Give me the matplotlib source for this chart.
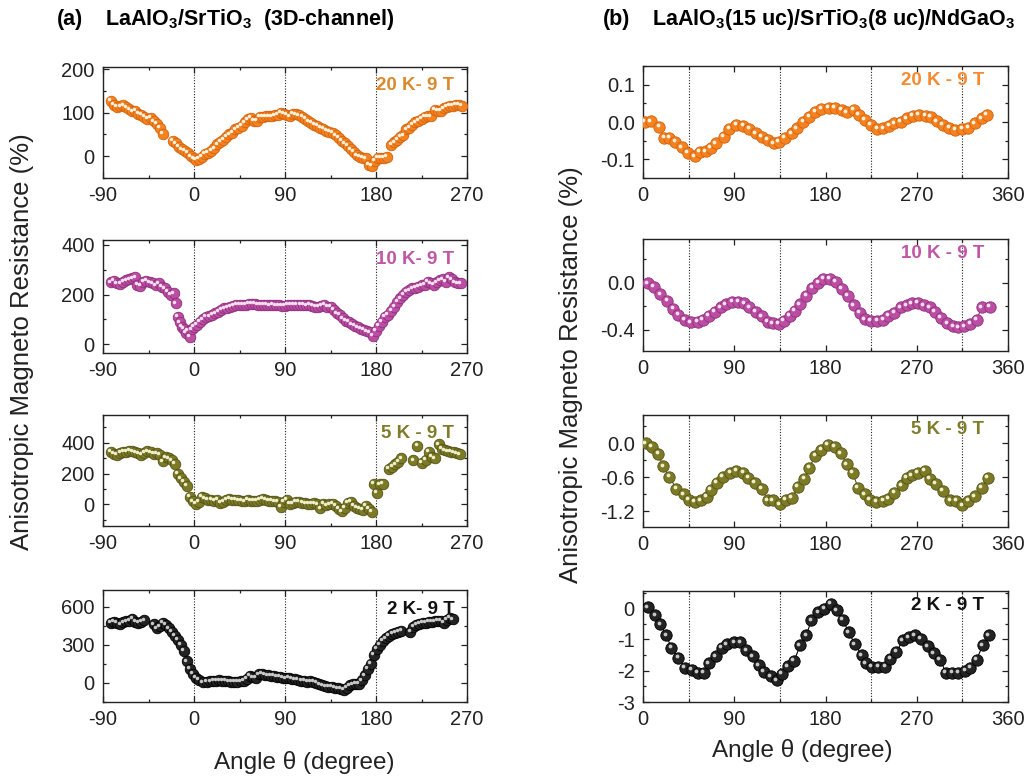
import matplotlib
matplotlib.use("Agg")
import matplotlib.pyplot as plt
import matplotlib.transforms as mtransforms
from matplotlib.ticker import MultipleLocator

plt.rcParams['font.family'] = ['Liberation Sans', 'DejaVu Sans']
plt.rcParams['mathtext.fontset'] = 'custom'
plt.rcParams['mathtext.rm'] = 'Liberation Sans'
plt.rcParams['mathtext.bf'] = 'Liberation Sans:bold'
plt.rcParams['axes.unicode_minus'] = False

# ---------------- Data: panel (a) LaAlO3/SrTiO3 (3D-channel) ----------------
a20_x = [-82, -79, -76, -73, -70, -67, -64, -61, -58, -55, -52, -49, -46, -43, -40, -37, -34, -31,
         -21, -18, -15, -12, -9, -6, -3, 0, 2, 5, 8, 11, 14, 17, 20, 23, 26, 29, 32, 35, 38, 41, 44, 47,
         50, 53, 56, 59, 62, 65, 68, 71, 74, 77, 80, 83, 86, 89, 92, 95, 98, 101, 104, 107, 110, 113,
         116, 119, 122, 125, 128, 131, 134, 137, 140, 143, 146, 149, 152, 155, 158, 161, 164, 167, 170,
         173, 176, 179, 182, 185, 188, 191, 195, 198, 201, 204, 207, 210, 213, 216, 219, 222, 225, 228,
         231, 234, 238, 241, 244, 247, 250, 253, 256, 259, 262, 265]
a20_y = [127, 118, 113, 115, 117, 112, 108, 103, 104, 98, 95, 90, 86, 88, 80, 75, 66, 52,
         36, 30, 22, 16, 13, 8, 0, -5, -8, -6, -2, 5, 8, 12, 18, 27, 33, 38, 44, 50, 54, 62, 66, 70,
         78, 85, 88, 82, 82, 90, 91, 92, 92, 92, 94, 95, 100, 98, 95, 92, 98, 96, 94, 90, 86, 80,
         76, 72, 70, 66, 63, 58, 56, 54, 48, 42, 36, 30, 24, 16, 10, 2, -2, -3, -5,
         -20, -22, -10, -4, -4, -4, -2, 26, 32, 38, 44, 48, 62, 66, 72, 78, 82, 86, 90,
         92, 92, 106, 104, 104, 110, 113, 116, 116, 118, 118, 116]

a10_x = [-82, -79, -76, -73, -70, -67, -64, -61, -58, -56, -53, -50, -47, -44, -41, -38, -35, -32,
         -29, -26, -23, -20, -18, -16, -14, -12, -10, -8, -6, -4, -2, 0, 3, 6, 9, 12, 15, 18, 21, 24,
         27, 30, 33, 36, 39, 42, 45, 48, 51, 54, 57, 60, 63, 66, 69, 72, 75, 78, 81, 84, 87, 90, 93,
         96, 99, 102, 105, 108, 111, 114, 117, 120, 123, 126, 129, 132, 135, 138, 141, 144, 147, 150,
         153, 156, 159, 162, 165, 168, 171, 174, 177, 180, 183, 186, 189, 192, 195, 198, 201, 204,
         207, 210, 213, 216, 219, 222, 225, 228, 231, 234, 237, 240, 243, 246, 249, 252, 255, 258,
         261, 264]
a10_y = [250, 255, 245, 243, 252, 258, 262, 265, 270, 240, 235, 252, 256, 250, 245, 238, 245, 232,
         225, 210, 200, 205, 165, 110, 88, 70, 62, 45, 55, 30, 60, 70, 78, 90, 100, 110, 112, 120, 125,
         130, 140, 145, 148, 150, 155, 158, 160, 160, 160, 162, 163, 162, 160, 160, 158, 158, 157, 158,
         157, 157, 155, 155, 158, 158, 158, 160, 160, 158, 157, 158, 156, 152, 150, 155, 160, 152, 150,
         140, 125, 118, 105, 95, 90, 80, 75, 68, 62, 58, 52, 48, 35, 55, 75, 90, 110, 120, 135, 150,
         170, 185, 198, 210, 218, 225, 228, 232, 238, 240, 252, 245, 240, 250, 258, 262, 252, 270, 262,
         250, 245, 245]

a5_x = [-82, -79, -76, -73, -70, -67, -64, -61, -58, -55, -52, -49, -46, -43, -40, -37, -34, -31,
        -28, -25, -22, -19, -16, -13, -10, -7, -4, -1, 2, 5, 8, 11, 14, 17, 20, 23, 26, 29, 32, 35,
        38, 41, 44, 47, 50, 53, 56, 59, 62, 65, 68, 71, 74, 77, 80, 83, 86, 89, 92, 95, 98, 101, 104,
        107, 110, 113, 116, 119, 122, 125, 128, 131, 134, 137, 140, 143, 146, 149, 152, 155, 158, 161,
        164, 167, 170, 173, 176, 178, 181, 184, 187, 193, 196, 199, 202, 205, 217, 221, 225, 229, 232,
        235, 238, 242, 245, 248, 251, 254, 257, 260, 263]
a5_y = [340, 330, 322, 335, 342, 340, 348, 345, 338, 332, 320, 335, 345, 338, 330, 332, 320, 280,
        305, 300, 285, 265, 200, 170, 145, 120, 50, 20, 5, 15, 48, 40, 30, 28, 25, 28, 10, 18, 30, 35,
        28, 30, 26, 22, 20, 28, 25, 22, 24, 30, 35, 30, 22, 24, 20, 15, -15, 18, 28, 5, 8, 18, 15,
        10, 8, 5, 4, 6, 0, -25, 5, -5, 0, 2, -8, -30, -45, -20, 10, 15, -10, -20,
        -30, -35, -10, -30, -50, 135, 75, 130, 135, 230, 245, 260, 275, 300, 285, 380, 270, 290, 340,
        310, 300, 390, 360, 350, 345, 340, 338, 332, 325]

a2_x = [-82, -79, -76, -73, -70, -67, -64, -61, -58, -55, -52, -49, -40, -37, -34, -31, -28, -25,
        -22, -19, -16, -13, -10, -7, -4, -1, 2, 5, 9, 13, 16, 19, 22, 25, 28, 31, 34, 37, 40, 43, 46,
        49, 52, 55, 58, 61, 64, 67, 70, 73, 76, 79, 82, 85, 88, 91, 94, 97, 100, 103, 106, 109, 112,
        115, 118, 121, 124, 127, 130, 133, 136, 139, 142, 145, 148, 151, 154, 157, 160, 163, 166, 169,
        172, 175, 178, 181, 184, 187, 190, 193, 196, 199, 202, 205, 214, 217, 220, 223, 226, 229, 232,
        235, 238, 241, 244, 247, 250, 253, 256]
a2_y = [472, 478, 470, 460, 475, 485, 490, 505, 480, 472, 478, 492, 460, 430, 445, 470, 455, 430,
        400, 370, 340, 300, 250, 170, 110, 70, 40, 25, 5, 8, 12, 14, 18, 20, 18, 16, 12, 10, 8, 10, 12,
        18, 30, 55, 45, 42, 68, 70, 65, 60, 58, 55, 50, 48, 42, 35, 38, 30, 28, 22, 18, 15, 10,
        12, 10, -2, -10, -20, -28, -32, -30, -38, -42, -48, -55, -40, -20, -10, -8, -5, 20, 60,
        110, 150, 220, 270, 300, 330, 350, 370, 385, 395, 400, 410, 400, 440, 455, 465, 470, 472, 478,
        480, 485, 490, 488, 470, 495, 510, 500]

# ---------------- Data: panel (b) LaAlO3(15 uc)/SrTiO3(8 uc)/NdGaO3 ----------------
b20_x = [2, 8, 16, 21, 26, 32, 38, 44, 51, 56, 62, 67, 72, 80, 85, 92, 99, 105, 111, 117, 123, 129,
         134, 140, 147, 152, 158, 164, 170, 176, 183, 189, 196, 201, 208, 213, 219, 225, 231, 237, 243,
         248, 254, 260, 266, 272, 279, 284, 290, 296, 302, 308, 315, 321, 327, 334, 339]
b20_y = [0.001, 0.002, -0.013, -0.042, -0.043, -0.054, -0.068, -0.083, -0.092, -0.080, -0.079,
         -0.070, -0.057, -0.039, -0.019, -0.007, -0.010, -0.019, -0.030, -0.039, -0.048, -0.057,
         -0.054, -0.043, -0.030, -0.017, 0.001, 0.014, 0.028, 0.036, 0.038, 0.038, 0.032, 0.026,
         0.032, 0.020, 0.005, -0.008, -0.019, -0.017, -0.010, -0.004, 0.001, 0.010, 0.017, 0.020,
         0.017, 0.014, 0.002, -0.008, -0.015, -0.021, -0.019, -0.015, -0.004, 0.010, 0.019]

b10_x = [5, 11, 17, 24, 30, 35, 41, 47, 54, 59, 65, 71, 77, 82, 88, 94, 100, 105, 111, 117, 123, 128,
         134, 139, 145, 150, 155, 161, 167, 173, 178, 184, 190, 196, 202, 208, 214, 219, 225, 231, 237,
         242, 248, 254, 260, 265, 271, 277, 283, 288, 294, 300, 306, 311, 317, 323, 329, 334, 342]
b10_y = [-0.006, -0.034, -0.099, -0.155, -0.220, -0.276, -0.316, -0.338, -0.332, -0.316, -0.282,
         -0.248, -0.211, -0.183, -0.163, -0.163, -0.175, -0.211, -0.248, -0.287, -0.332, -0.344,
         -0.352, -0.324, -0.282, -0.239, -0.183, -0.113, -0.042, 0.0, 0.034, 0.034, 0.006, -0.051,
         -0.113, -0.192, -0.259, -0.310, -0.324, -0.324, -0.316, -0.282, -0.254, -0.211, -0.192,
         -0.175, -0.169, -0.192, -0.211, -0.248, -0.296, -0.344, -0.372, -0.380, -0.372, -0.352,
         -0.316, -0.211, -0.203]

b5_x = [3, 9, 15, 20, 26, 33, 40, 45, 51, 57, 63, 67, 73, 79, 86, 92, 99, 104, 110, 117, 123, 128,
        135, 141, 147, 153, 159, 164, 170, 176, 182, 189, 195, 201, 207, 212, 219, 224, 230, 237, 242,
        248, 255, 260, 265, 271, 278, 283, 289, 296, 303, 309, 315, 321, 327, 334, 340]
b5_y = [0.0, -0.059, -0.187, -0.410, -0.597, -0.802, -0.902, -0.995, -1.036, -1.007, -0.948, -0.820,
        -0.702, -0.597, -0.527, -0.492, -0.527, -0.609, -0.702, -0.802, -1.007, -1.007, -1.077,
        -0.995, -0.960, -0.773, -0.626, -0.433, -0.217, -0.117, -0.023, -0.059, -0.176, -0.375,
        -0.527, -0.784, -0.902, -0.995, -1.036, -1.019, -0.978, -0.878, -0.743, -0.609, -0.568,
        -0.527, -0.492, -0.626, -0.714, -0.843, -1.007, -1.019, -1.095, -1.019, -0.937, -0.784,
        -0.609]

b2_x = [5, 12, 17, 23, 28, 35, 41, 48, 54, 60, 65, 72, 78, 83, 90, 96, 102, 108, 114, 119, 126, 132,
        137, 143, 149, 155, 161, 166, 173, 179, 185, 191, 197, 203, 209, 216, 220, 226, 232, 239, 244,
        250, 256, 262, 268, 274, 281, 287, 293, 299, 305, 311, 318, 323, 329, 335, 341]
b2_y = [0.03, -0.23, -0.52, -0.87, -1.27, -1.59, -1.90, -1.97, -2.07, -2.07, -1.76, -1.54, -1.27,
        -1.16, -1.09, -1.09, -1.35, -1.54, -1.83, -2.04, -2.18, -2.31, -2.10, -1.86, -1.69, -1.19,
        -0.87, -0.39, -0.13, -0.02, 0.14, -0.07, -0.37, -0.77, -1.16, -1.51, -1.76, -1.88, -1.88,
        -1.88, -1.62, -1.40, -1.03, -0.93, -0.87, -0.98, -1.22, -1.44, -1.65, -2.07, -2.07, -2.07,
        -2.01, -1.90, -1.65, -1.19, -0.87]

labels_a = ["20 K- 9 T", "10 K- 9 T", "5 K - 9 T", "2 K- 9 T"]
labels_b = ["20 K - 9 T", "10 K - 9 T", "5 K - 9 T", "2 K - 9 T"]

# ---------------- Styling ----------------
W, H = 1027, 776
fig = plt.figure(figsize=(W / 100, H / 100), dpi=100)

def frac_box(x0, x1, ytop, ybot):
    return [x0 / W, 1 - ybot / H, (x1 - x0) / W, (ybot - ytop) / H]

rows_a = [(67, 178), (240, 353), (415, 526), (590, 702)]
rows_b = [(66, 178), (239, 351), (415, 527), (591, 702)]

cols = ['#f58220', '#bb4ea3', '#7c7a25', '#232323']
edges = ['#d2620c', '#8e2f7b', '#55531a', '#000000']
hls = ['#fff1dc', '#f6e0f0', '#eef0cc', '#c8c8c8']
lab_cols_a = ['#da8a2e', '#c155a6', '#7f7d2a', '#111111']
lab_cols_b = ['#f58a30', '#c155a6', '#7f7d2a', '#111111']

a_data = [(a20_x, a20_y), (a10_x, a10_y), (a5_x, a5_y), (a2_x, a2_y)]
b_data = [(b20_x, b20_y), (b10_x, b10_y), (b5_x, b5_y), (b2_x, b2_y)]

ylims_a = [(-50, 205), (-35, 420), (-140, 580), (-150, 730)]
yticks_a = [[0, 100, 200], [0, 200, 400], [0, 200, 400], [0, 300, 600]]
ylims_b = [(-0.15, 0.15), (-0.58, 0.37), (-1.48, 0.5), (-3.0, 0.55)]
yticks_b = [[-0.1, 0.0, 0.1], [-0.4, 0.0], [-1.2, -0.6, 0.0], [-3, -2, -1, 0]]
yfmt_b = ['{:.1f}', '{:.1f}', '{:.1f}', '{:.0f}']

def style_ax(ax):
    for s in ax.spines.values():
        s.set_linewidth(1.0)
        s.set_color('#222222')
    ax.tick_params(direction='in', which='both', top=True, right=True, labelsize=14.5,
                   length=4, width=0.9, pad=6, colors='#222222')
    ax.tick_params(which='minor', length=2.5)

def spheres(ax, x, y, i, ms, line):
    if line:
        ax.plot(x, y, '-', color=edges[i], lw=0.8, zorder=2)
    ax.plot(x, y, 'o', ms=ms, mfc=cols[i], mec=edges[i], mew=0.6, ls='none', zorder=3)
    tr = mtransforms.offset_copy(ax.transData, fig=fig, x=-1.2, y=1.2, units='points')
    ax.plot(x, y, 'o', ms=ms * 0.33, mfc=hls[i], mec='none', ls='none', zorder=4, transform=tr)

for i in range(4):
    ax = fig.add_axes(frac_box(103, 467, *rows_a[i]))
    x, y = a_data[i]
    for v in (0, 90, 180):
        ax.axvline(v, color='#222222', ls=(0, (1, 1.5)), lw=0.8, zorder=1)
    spheres(ax, x, y, i, 7.6, False)
    ax.set_xlim(-90, 270)
    ax.set_ylim(*ylims_a[i])
    ax.set_xticks([-90, 0, 90, 180, 270])
    ax.xaxis.set_minor_locator(MultipleLocator(45))
    ax.set_yticks(yticks_a[i])
    ax.yaxis.set_minor_locator(MultipleLocator(yticks_a[i][1] / 2))
    style_ax(ax)
    ax.text(0.965, 0.83, labels_a[i], transform=ax.transAxes, ha='right', va='center',
            fontsize=13.5, fontweight='bold', color=lab_cols_a[i])

for i in range(4):
    ax = fig.add_axes(frac_box(643, 1008, *rows_b[i]))
    x, y = b_data[i]
    for v in (45, 135, 225, 315):
        ax.axvline(v, color='#222222', ls=(0, (1, 1.5)), lw=0.8, zorder=1)
    spheres(ax, x, y, i, 8.2, True)
    ax.set_xlim(0, 360)
    ax.set_ylim(*ylims_b[i])
    ax.set_xticks([0, 90, 180, 270, 360])
    ax.xaxis.set_minor_locator(MultipleLocator(45))
    ax.set_yticks(yticks_b[i])
    ax.set_yticklabels([yfmt_b[i].format(t) for t in yticks_b[i]])
    step = yticks_b[i][1] - yticks_b[i][0]
    ax.yaxis.set_minor_locator(MultipleLocator(step / 2))
    style_ax(ax)
    ax.text(0.935, 0.87, labels_b[i], transform=ax.transAxes, ha='right', va='center',
            fontsize=13.5, fontweight='bold', color=lab_cols_b[i])

# Titles
fig.text(57 / W, 1 - 19 / H, '(a)', fontsize=15.5, fontweight='bold', va='center', ha='left')
fig.text(105 / W, 1 - 19 / H, r'LaAlO$_\mathbf{3}$/SrTiO$_\mathbf{3}$  (3D-channel)',
         fontsize=15.5, fontweight='bold', va='center', ha='left')
fig.text(603 / W, 1 - 20 / H, '(b)', fontsize=15.5, fontweight='bold', va='center', ha='left')
fig.text(652 / W, 1 - 20 / H, r'LaAlO$_\mathbf{3}$(15 uc)/SrTiO$_\mathbf{3}$(8 uc)/NdGaO$_\mathbf{3}$',
         fontsize=15.5, fontweight='bold', va='center', ha='left')

# Axis labels
fig.text(22 / W, 1 - 342 / H, 'Anisotropic Magneto Resistance (%)', rotation=90,
         fontsize=18.5, ha='center', va='center', color='#222222')
fig.text(571 / W, 1 - 375 / H, 'Anisotropic Magneto Resistance (%)', rotation=90,
         fontsize=18.5, ha='center', va='center', color='#222222')
fig.text(304 / W, 1 - 763 / H, 'Angle θ (degree)', fontsize=17.5, ha='center', va='center',
         color='#222222')
fig.text(802 / W, 1 - 750 / H, 'Angle θ (degree)', fontsize=17.5, ha='center', va='center',
         color='#222222')

fig.savefig('out.png', dpi=100)
